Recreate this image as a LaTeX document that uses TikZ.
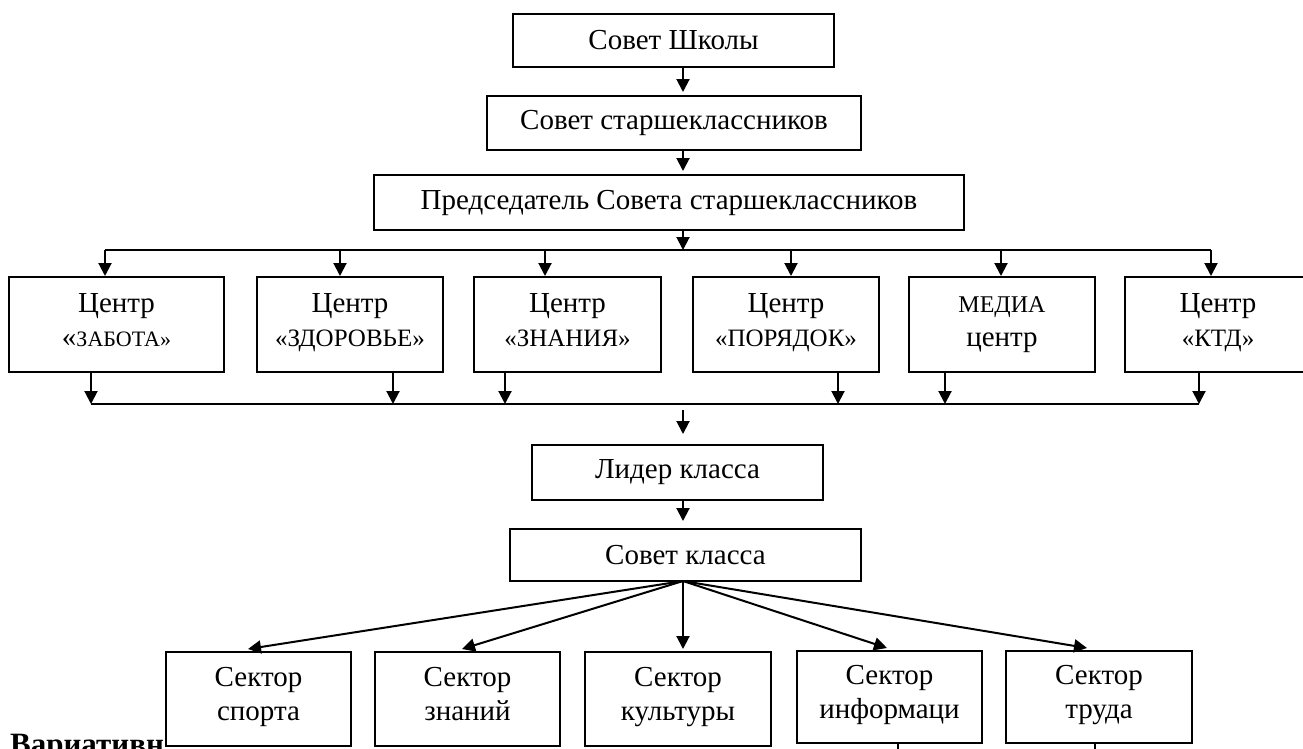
\documentclass[tikz,border=0pt]{standalone}
\usepackage{fontspec}
\setmainfont{Liberation Serif}
\usetikzlibrary{arrows.meta,calc}
\newcommand{\topstrut}{\rule{0pt}{27pt}}
\newcommand{\botstrut}{\rule[-10pt]{0pt}{10pt}}
\newcommand{\sub}[1]{{\fontsize{25}{34}\selectfont #1}}
\begin{document}
\begin{tikzpicture}[x=1pt,y=-1pt,
  box/.style={draw,line width=2pt,fill=white,inner sep=0pt,align=center,
    font=\fontsize{29}{34}\selectfont},
  two/.style={box,execute at begin node=\topstrut,execute at end node=\botstrut},
  ln/.style={line width=2pt},
  arr/.style={line width=2pt,-{Triangle[length=13pt,width=13pt]}}]
\useasboundingbox (0,0) rectangle (1303,748);
% top chain
\node[box,minimum width=321,minimum height=53] (school) at (673.5,40.5) {Совет Школы};
\node[box,minimum width=374,minimum height=54] (senior) at (674,123) {Совет старшеклассников};
\node[box,minimum width=590,minimum height=55] (chair) at (669,202.5) {Председатель Совета старшеклассников};
\coordinate (tc) at (683,250);
\draw[arr] (school.south -| tc) -- ($(senior.north -| tc)+(0,-3)$);
\draw[arr] (senior.south -| tc) -- ($(chair.north -| tc)+(0,-3)$);
% centres
\node[two,minimum width=215,minimum height=95] (c1) at (116.5,324.5) {Центр\\«{\fontsize{22}{34}\selectfont ЗАБОТА»}};
\node[two,minimum width=186,minimum height=95] (c2) at (350,324.5) {Центр\\\sub{«ЗДОРОВЬЕ»}};
\node[two,minimum width=187,minimum height=95] (c3) at (567.5,324.5) {Центр\\\sub{«ЗНАНИЯ»}};
\node[two,minimum width=186,minimum height=95] (c4) at (786,324.5) {Центр\\\sub{«ПОРЯДОК»}};
\node[box,minimum width=186,minimum height=95] (c5) at (1002,324.5) {{\fontsize{24}{34}\selectfont МЕДИА}\\центр};
\node[two,minimum width=186,minimum height=95] (c6) at (1218,324.5) {Центр\\\sub{«КТД»}};
\coordinate (t1) at (105,250);
\coordinate (t2) at (340,250);
\coordinate (t3) at (545,250);
\coordinate (t4) at (791,250);
\coordinate (t5) at (1001,250);
\coordinate (t6) at (1211,250);
\draw[ln] (t1) -- (t6);
\draw[arr] (chair.south -| tc) -- (tc);
\foreach \i in {1,...,6} {\draw[arr] (t\i) -- (t\i |- c\i.north);}
\coordinate (b1) at (91,404);
\coordinate (b2) at (393,404);
\coordinate (b3) at (505,404);
\coordinate (b4) at (838,404);
\coordinate (b5) at (945,404);
\coordinate (b6) at (1199,404);
\draw[ln] (b1) -- (b6);
\foreach \i in {1,...,6} {\draw[arr] (b\i |- c\i.south) -- (b\i);}
% class level
\node[box,minimum width=291,minimum height=55] (leader) at (677.5,472.5) {Лидер класса};
\node[box,minimum width=351,minimum height=52] (council) at (685.5,555) {Совет класса};
\coordinate (bc) at (683,410);
\draw[arr] (bc) -- ($(bc |- leader.north)+(0,-10)$);
\draw[arr] (leader.south -| bc) -- ($(council.north -| bc)+(0,-7)$);
% bold caption (partly hidden, as in the reference)
\node[anchor=base west,inner sep=0pt,font=\bfseries\fontsize{31}{34}\selectfont] (var) at (10,754) {Вариативн};
% sectors
\node[two,minimum width=185,minimum height=94] (s1) at (258.5,699) {Сектор\\спорта};
\node[two,minimum width=185,minimum height=94] (s2) at (467.5,699) {Сектор\\знаний};
\node[two,minimum width=186,minimum height=94] (s3) at (678,699) {Сектор\\культуры};
\node[two,minimum width=185,minimum height=92] (s4) at (889.5,697) {Сектор\\информаци};
\node[two,minimum width=186,minimum height=92] (s5) at (1099,697) {Сектор\\труда};
\coordinate (fan) at (683,581);
\draw[arr] (fan) -- ($(s1.north)+(-10.5,-2)$);
\draw[arr] (fan) -- ($(s2.north)+(-5.5,-2)$);
\draw[arr] (fan) -- ($(s3.north)+(5,-2)$);
\draw[arr] (fan) -- ($(s4.north)+(-2.5,-2)$);
\draw[arr] (fan) -- ($(s5.north)+(-12,-2)$);
% stubs below
\draw[ln] (s4.south -| 898,0) -- ++(0,10);
\draw[ln] (s5.south -| 1095,0) -- ++(0,10);
\end{tikzpicture}
\end{document}
